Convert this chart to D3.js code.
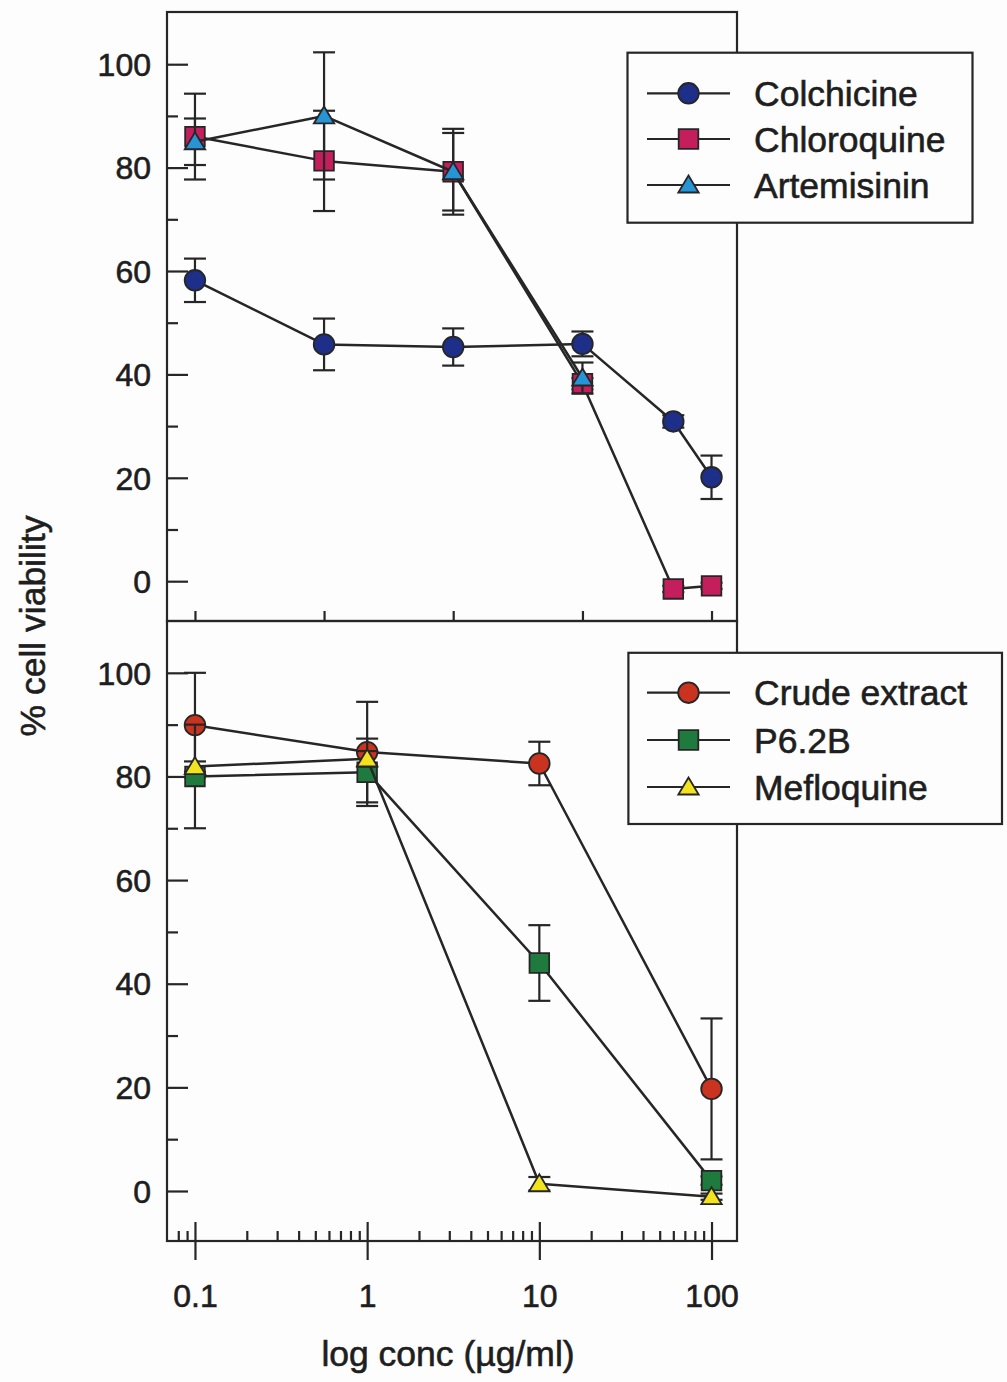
<!DOCTYPE html>
<html>
<head>
<meta charset="utf-8">
<script src="https://cdn.jsdelivr.net/npm/d3@7"></script>
<style>
  html, body { margin: 0; padding: 0; background: #fdfdfd; }
  svg { display: block; }
  text { font-family: "Liberation Sans", Arial, "DejaVu Sans", sans-serif; fill: #1e1e1e; stroke: #1e1e1e; stroke-width: 0.6px; }
</style>
</head>
<body>
<svg id="chart" width="1007" height="1382"></svg>
<script>
// ---------------- DATA ----------------
// Top panel concentrations (µg/ml)
const topConc = [0.1, 0.562, 3.16, 17.8, 60, 100];
const topTicks = [0.1, 0.562, 3.16, 17.8, 100];
const colchicine    = [58.2, 45.8, 45.3, 45.9, 30.9, 20.1];
const colchicineErr = [4.2, 5.0, 3.6, 2.4, 1.2, 4.2];
const chloroquine    = [86.0, 81.3, 79.2, 38.2, -1.5, -0.9];
const chloroquineErr = [8.3, 9.7, 8.3, 1.1, 0.6, 0.6];
const artemisinin    = [85.0, 90.0, 79.2, 39.3];
const artemisininErr = [4.5, 12.3, 7.5, 3.0];

// Bottom panel concentrations (µg/ml)
const botConc = [0.1, 1, 10, 100];
const crude    = [89.9, 84.7, 82.5, 19.7];
const crudeErr = [10.1, 9.7, 4.2, 13.6];
const p62b     = [80.0, 80.8, 44.0, 2.0];
const p62bErr  = [10.0, 6.5, 7.3, 0.8];
const mefloquine    = [81.9, 83.4, 1.4, -1.1];
const mefloquineErr = [1.0, 1.5, 1.3, 0.6];

const yMajorTicks = [0, 20, 40, 60, 80, 100];
const yMinorTicks = [10, 30, 50, 70, 90];
const xMajorTicks = [0.1, 1, 10, 100];
const xMajorLabels = ["0.1", "1", "10", "100"];
const xMinorTicks = [0.08, 0.09, 0.2, 0.3, 0.4, 0.5, 0.6, 0.7, 0.8, 0.9,
                     2, 3, 4, 5, 6, 7, 8, 9, 20, 30, 40, 50, 60, 70, 80, 90];

const topSeries = [
  {name: "Colchicine",  x: topConc, y: colchicine,  e: colchicineErr,  shape: "circle",   fill: "#1d2f88"},
  {name: "Chloroquine", x: topConc, y: chloroquine, e: chloroquineErr, shape: "square",   fill: "#c41f5c"},
  {name: "Artemisinin", x: topConc.slice(0, 4), y: artemisinin, e: artemisininErr, shape: "triangle", fill: "#2794d6"}
];
const botSeries = [
  {name: "Crude extract", x: botConc, y: crude,      e: crudeErr,      shape: "circle",   fill: "#c9331f"},
  {name: "P6.2B",         x: botConc, y: p62b,       e: p62bErr,       shape: "square",   fill: "#1e7a3d"},
  {name: "Mefloquine",    x: botConc, y: mefloquine, e: mefloquineErr, shape: "triangle", fill: "#f2e31e"}
];

// ---------------- LAYOUT ----------------
const svg = d3.select("#chart");
svg.append("rect").attr("width", 1007).attr("height", 1382).attr("fill", "#fdfdfd");

const L = 167, R = 737;
const topT = 12, mid = 621, botB = 1241;
const ink = "#262626";

const x = d3.scaleLog().domain([0.0688, 140.6]).range([L, R]);
const yTop = d3.scaleLinear().domain([-7.7, 110.1]).range([mid, topT]);
const yBot = d3.scaleLinear().domain([-9.65, 110]).range([botB, mid]);

function markerPath(shape) {
  if (shape === "circle") return d3.symbol(d3.symbolCircle, Math.PI * 10.3 * 10.3)();
  if (shape === "square") return "M-9.8,-9.8H9.8V9.8H-9.8Z";
  return "M0,-9.5L10.2,7.5L-10.2,7.5Z";
}

function styleAxis(g) {
  g.select(".domain").remove();
  g.selectAll(".tick line").attr("stroke", ink).attr("stroke-width", 2.2);
  g.selectAll(".tick text").style("font-size", "32px").attr("fill", "#1e1e1e")
    .style("font-family", '"Liberation Sans", Arial, sans-serif');
}

function drawPanel(y, series) {
  // y ticks
  svg.append("g").attr("transform", `translate(${L},0)`)
    .call(d3.axisLeft(y).tickValues(yMajorTicks).tickSizeInner(-21).tickSizeOuter(0).tickPadding(16).tickFormat(d3.format("d")))
    .call(styleAxis)
    .call(g => g.selectAll(".tick text").attr("dy", "0.35em"));
  svg.append("g").attr("transform", `translate(${L},0)`)
    .call(d3.axisLeft(y).tickValues(yMinorTicks).tickSizeInner(-11).tickSizeOuter(0).tickFormat(""))
    .call(styleAxis);

  const line = d3.line().x(d => x(d[0])).y(d => y(d[1]));
  series.forEach(s => {
    const pts = s.x.map((c, i) => [c, s.y[i], s.e[i]]);
    const g = svg.append("g");
    // error bars
    pts.forEach(p => {
      const cx = x(p[0]), y1 = y(p[1] + p[2]), y2 = y(p[1] - p[2]);
      g.append("line").attr("x1", cx).attr("x2", cx).attr("y1", y1).attr("y2", y2)
        .attr("stroke", ink).attr("stroke-width", 2.2);
      [y1, y2].forEach(yy => g.append("line").attr("x1", cx - 11).attr("x2", cx + 11)
        .attr("y1", yy).attr("y2", yy).attr("stroke", ink).attr("stroke-width", 2.2));
    });
    g.append("path").datum(pts).attr("d", line).attr("fill", "none")
      .attr("stroke", ink).attr("stroke-width", 2.5).attr("stroke-linejoin", "round");
    g.selectAll("path.m").data(pts).join("path").attr("class", "m")
      .attr("d", markerPath(s.shape))
      .attr("transform", d => `translate(${x(d[0])},${y(d[1])})`)
      .attr("fill", s.fill).attr("stroke", ink).attr("stroke-width", 1.8);
  });
}

// frames
svg.append("rect").attr("x", L).attr("y", topT).attr("width", R - L).attr("height", mid - topT)
  .attr("fill", "none").attr("stroke", ink).attr("stroke-width", 2.2);
svg.append("rect").attr("x", L).attr("y", mid).attr("width", R - L).attr("height", botB - mid)
  .attr("fill", "none").attr("stroke", ink).attr("stroke-width", 2.2);

// top panel x ticks (inward)
svg.append("g").attr("transform", `translate(0,${mid})`)
  .call(d3.axisBottom(x).tickValues(topTicks).tickSizeInner(-10).tickSizeOuter(0).tickFormat(""))
  .call(styleAxis);

// bottom panel x axis
svg.append("g").attr("transform", `translate(0,${botB})`)
  .call(d3.axisBottom(x).tickValues(xMajorTicks).tickSizeInner(19).tickSizeOuter(0).tickPadding(24)
    .tickFormat((d, i) => xMajorLabels[i]))
  .call(styleAxis);
svg.append("g").attr("transform", `translate(0,${botB})`)
  .call(d3.axisBottom(x).tickValues(xMajorTicks).tickSizeInner(-19).tickSizeOuter(0).tickFormat(""))
  .call(styleAxis);
svg.append("g").attr("transform", `translate(0,${botB})`)
  .call(d3.axisBottom(x).tickValues(xMinorTicks).tickSizeInner(-10).tickSizeOuter(0).tickFormat(""))
  .call(styleAxis);

drawPanel(yTop, topSeries);
drawPanel(yBot, botSeries);

// legends
function drawLegend(series, box, rows) {
  svg.append("rect").attr("x", box[0]).attr("y", box[1]).attr("width", box[2] - box[0]).attr("height", box[3] - box[1])
    .attr("fill", "#fdfdfd").attr("stroke", ink).attr("stroke-width", 2.2);
  series.forEach((s, i) => {
    const ry = rows[i];
    svg.append("line").attr("x1", 647).attr("x2", 730).attr("y1", ry).attr("y2", ry)
      .attr("stroke", ink).attr("stroke-width", 2.2);
    svg.append("path").attr("d", markerPath(s.shape)).attr("transform", `translate(688.5,${ry})`)
      .attr("fill", s.fill).attr("stroke", ink).attr("stroke-width", 1.8);
    svg.append("text").attr("x", 754).attr("y", ry + 12.5).style("font-size", "35.5px").text(s.name);
  });
}
drawLegend(topSeries, [627.5, 52.7, 972.5, 222.7], [93.3, 139, 185]);
drawLegend(botSeries, [628.4, 652.8, 1002, 824], [692.7, 740, 787]);

// axis titles
svg.append("text").attr("transform", "translate(45,626) rotate(-90)").attr("text-anchor", "middle")
  .style("font-size", "35.5px").text("% cell viability");
svg.append("text").attr("x", 448).attr("y", 1366).attr("text-anchor", "middle")
  .style("font-size", "35.5px").text("log conc (µg/ml)");
</script>
</body>
</html>
